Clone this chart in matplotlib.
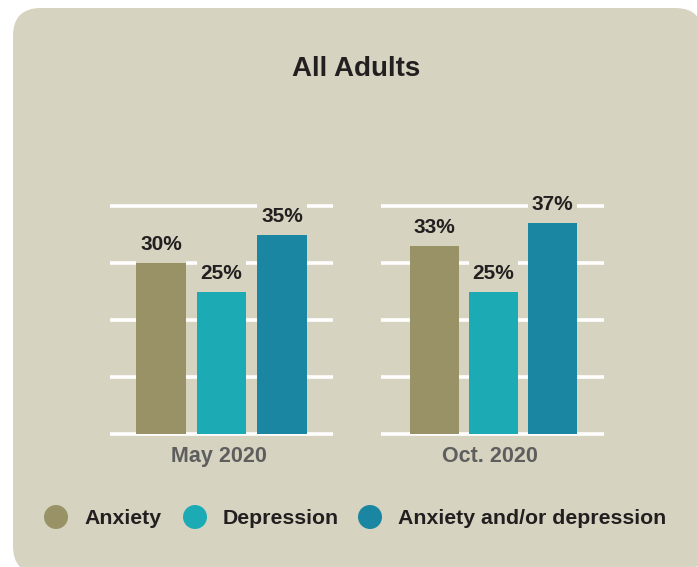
import matplotlib
matplotlib.use("Agg")
import matplotlib.pyplot as plt
from matplotlib.patches import FancyBboxPatch, Ellipse

groups = ["May 2020", "Oct. 2020"]
series = ["Anxiety", "Depression", "Anxiety and/or depression"]
may_values = [30, 25, 35]
oct_values = [33, 25, 37]
colors = ["#999266", "#1cabb4", "#1a86a2"]

bg = "#d6d3c0"
dark = "#231f20"
grey = "#5e5e5e"
plt.rcParams["font.family"] = ["Liberation Sans", "DejaVu Sans"]

fig = plt.figure(figsize=(6.97, 5.67), dpi=100)
fig.patch.set_facecolor("white")

# background panel in pixel coordinates
back = fig.add_axes([0, 0, 1, 1])
back.set_xlim(0, 697)
back.set_ylim(567, 0)
back.axis("off")
back.add_patch(FancyBboxPatch((13, 8), 690, 566,
                              boxstyle="round,pad=0,rounding_size=28",
                              fc=bg, ec="none"))
back.text(356, 69, "All Adults", fontsize=20, fontweight="bold",
          color=dark, ha="center", va="center")

# legend
leg_x = [56, 195, 370]
for i, name in enumerate(series):
    back.add_patch(Ellipse((leg_x[i], 517), 24, 24, fc=colors[i], ec="none"))
    back.text(leg_x[i] + 28, 518, name, fontsize=15.3, fontweight="bold",
              color=dark, ha="left", va="center")

panels = [(110, may_values, (-0.843, 2.843), 0.82),
          (381, oct_values, (-0.907, 2.873), 0.83)]
for (left, vals, xl, w), gname in zip(panels, groups):
    ax = fig.add_axes([left / 697, 133 / 567, 223 / 697, 228 / 567])
    ax.set_facecolor("none")
    x = list(range(len(vals)))
    ax.set_xlim(*xl)
    ax.set_ylim(0, 40)
    ax.set_yticks([0, 10, 20, 30, 40])
    ax.yaxis.grid(True, color="white", lw=2.6, zorder=1)
    for gl in ax.yaxis.get_gridlines():
        gl.set_clip_on(False)
        gl.set_solid_capstyle("butt")
    ax.set_axisbelow(True)
    for s in ax.spines.values():
        s.set_visible(False)
    ax.tick_params(left=False, bottom=False, labelleft=False, labelbottom=False)
    # label backgrounds hiding the gridlines above each bar
    ax.bar(x, 5.6, bottom=vals, width=w, color=bg, zorder=2, clip_on=False)
    ax.bar(x, vals, width=w, color=colors, zorder=3, clip_on=False)
    for xi, v in zip(x, vals):
        ax.text(xi, v + 3.2, f"{v}%", fontsize=15, fontweight="bold",
                color=dark, ha="center", va="center", zorder=4, clip_on=False)
    ax.text(0.49, -0.10, gname, transform=ax.transAxes, fontsize=15.5,
            fontweight="bold", color=grey, ha="center", va="center")

fig.savefig("out.png", dpi=100, facecolor="white")
